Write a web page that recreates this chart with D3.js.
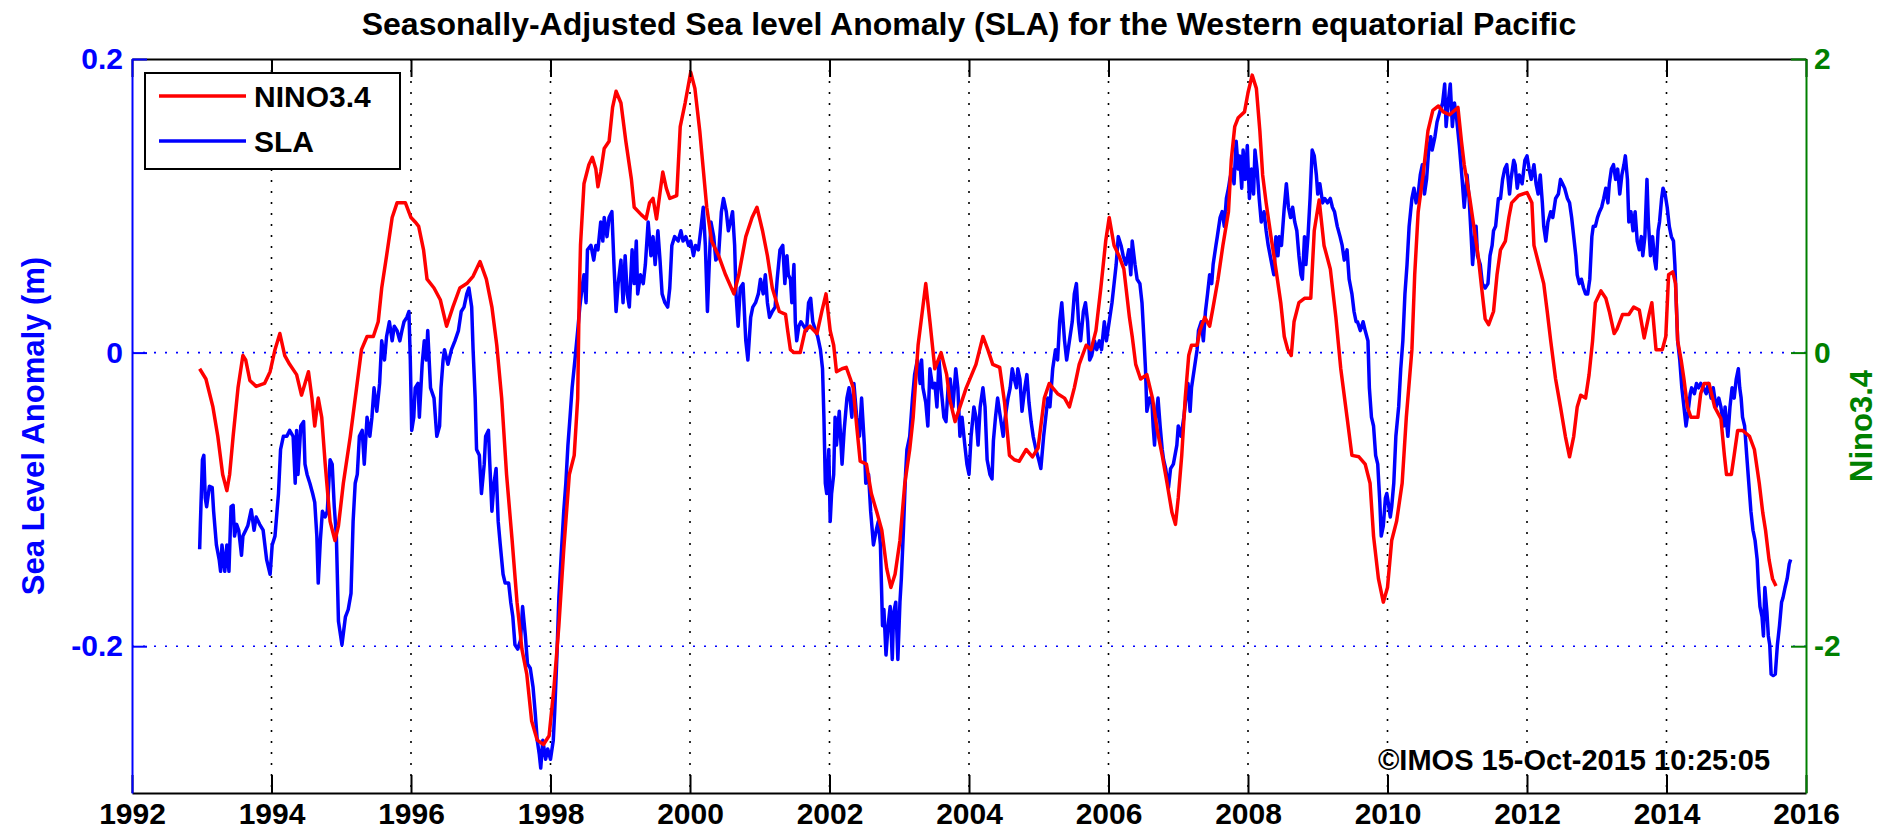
<!DOCTYPE html>
<html>
<head>
<meta charset="utf-8">
<script src="https://cdn.jsdelivr.net/npm/d3@7"></script>
<style>
  body { margin: 0; background: #fff; }
  text { font-family: "Liberation Sans", Arial, sans-serif; font-weight: bold; }
</style>
</head>
<body>
<div id="chart"></div>
<script>
// tick labels
var yearTicks = [1992, 1994, 1996, 1998, 2000, 2002, 2004, 2006, 2008, 2010, 2012, 2014, 2016];
var slaTicks = [-0.2, 0, 0.2];
var ninoTicks = [-2, 0, 2];
var seriesNames = ["NINO3.4", "SLA"];

// NINO3.4 index, [decimal year, value]
var ninoSeries = [
  [1992.97,-0.11],[1993.06,-0.18],[1993.16,-0.37],[1993.23,-0.57],[1993.30,-0.83],[1993.36,-0.94],[1993.40,-0.83],
  [1993.45,-0.57],[1993.52,-0.24],[1993.59,-0.02],[1993.63,-0.05],[1993.69,-0.19],[1993.78,-0.23],[1993.90,-0.21],
  [1993.98,-0.13],[1994.05,0.02],[1994.12,0.13],[1994.19,-0.02],[1994.26,-0.08],[1994.36,-0.15],[1994.43,-0.29],
  [1994.48,-0.21],[1994.53,-0.13],[1994.58,-0.31],[1994.62,-0.50],[1994.67,-0.31],[1994.72,-0.44],[1994.77,-0.76],
  [1994.84,-1.15],[1994.91,-1.28],[1994.96,-1.18],[1995.03,-0.89],[1995.13,-0.57],[1995.22,-0.24],[1995.29,0.02],
  [1995.37,0.11],[1995.46,0.11],[1995.53,0.21],[1995.58,0.44],[1995.65,0.66],[1995.73,0.92],[1995.80,1.02],
  [1995.92,1.02],[1996.00,0.92],[1996.06,0.89],[1996.11,0.86],[1996.18,0.70],[1996.23,0.50],[1996.33,0.44],
  [1996.42,0.36],[1996.51,0.18],[1996.60,0.31],[1996.70,0.44],[1996.80,0.47],[1996.89,0.52],[1996.99,0.62],
  [1997.08,0.50],[1997.16,0.31],[1997.23,0.05],[1997.30,-0.31],[1997.37,-0.83],[1997.45,-1.28],[1997.52,-1.70],
  [1997.59,-2.02],[1997.66,-2.19],[1997.73,-2.51],[1997.81,-2.64],[1997.90,-2.67],[1997.98,-2.61],[1998.05,-2.28],
  [1998.12,-1.86],[1998.19,-1.34],[1998.27,-0.83],[1998.34,-0.70],[1998.39,-0.31],[1998.41,0.34],[1998.43,0.73],
  [1998.48,1.15],[1998.55,1.28],[1998.60,1.33],[1998.65,1.25],[1998.68,1.13],[1998.72,1.23],[1998.77,1.39],
  [1998.84,1.44],[1998.89,1.67],[1998.94,1.78],[1999.01,1.70],[1999.08,1.44],[1999.16,1.18],[1999.20,0.99],
  [1999.30,0.94],[1999.37,0.91],[1999.42,1.02],[1999.47,1.05],[1999.52,0.91],[1999.57,1.09],[1999.61,1.23],
  [1999.66,1.12],[1999.71,1.05],[1999.81,1.07],[1999.86,1.54],[1999.93,1.70],[2000.01,1.91],[2000.07,1.80],
  [2000.14,1.51],[2000.19,1.25],[2000.24,0.99],[2000.31,0.76],[2000.41,0.66],[2000.51,0.53],[2000.63,0.40],
  [2000.70,0.53],[2000.80,0.79],[2000.89,0.92],[2000.96,0.99],[2001.04,0.83],[2001.11,0.66],[2001.18,0.44],
  [2001.28,0.28],[2001.37,0.26],[2001.40,0.15],[2001.44,0.02],[2001.49,0.00],[2001.58,0.00],[2001.65,0.15],
  [2001.72,0.18],[2001.82,0.13],[2001.89,0.28],[2001.95,0.40],[2002.01,0.15],[2002.06,0.05],[2002.10,-0.13],
  [2002.18,-0.11],[2002.24,-0.10],[2002.30,-0.18],[2002.34,-0.24],[2002.39,-0.50],[2002.44,-0.74],[2002.53,-0.76],
  [2002.60,-0.96],[2002.68,-1.09],[2002.75,-1.21],[2002.82,-1.47],[2002.88,-1.60],[2002.94,-1.51],[2003.01,-1.28],
  [2003.08,-0.89],[2003.15,-0.66],[2003.20,-0.44],[2003.27,0.05],[2003.32,0.24],[2003.38,0.47],[2003.44,0.21],
  [2003.51,-0.11],[2003.56,-0.05],[2003.60,0.00],[2003.68,-0.15],[2003.72,-0.31],[2003.80,-0.47],[2003.87,-0.37],
  [2003.96,-0.24],[2004.03,-0.16],[2004.10,-0.08],[2004.20,0.11],[2004.27,0.02],[2004.34,-0.08],[2004.44,-0.10],
  [2004.51,-0.34],[2004.58,-0.70],[2004.65,-0.73],[2004.72,-0.74],[2004.82,-0.66],[2004.91,-0.71],[2004.99,-0.65],
  [2005.03,-0.50],[2005.08,-0.31],[2005.15,-0.21],[2005.20,-0.24],[2005.27,-0.28],[2005.37,-0.31],[2005.44,-0.37],
  [2005.51,-0.24],[2005.58,-0.08],[2005.68,0.05],[2005.75,0.02],[2005.82,0.15],[2005.89,0.44],[2005.96,0.76],
  [2006.01,0.92],[2006.08,0.73],[2006.15,0.66],[2006.22,0.57],[2006.30,0.24],[2006.34,0.11],[2006.39,-0.08],
  [2006.46,-0.18],[2006.55,-0.15],[2006.63,-0.31],[2006.70,-0.53],[2006.77,-0.70],[2006.84,-0.89],[2006.91,-1.09],
  [2006.96,-1.17],[2007.00,-0.99],[2007.05,-0.70],[2007.10,-0.31],[2007.15,-0.02],[2007.19,0.05],[2007.27,0.05],
  [2007.31,0.15],[2007.38,0.24],[2007.45,0.18],[2007.50,0.31],[2007.57,0.50],[2007.64,0.73],[2007.72,0.96],
  [2007.76,1.31],[2007.81,1.54],[2007.86,1.60],[2007.95,1.64],[2008.00,1.77],[2008.06,1.89],[2008.12,1.80],
  [2008.17,1.51],[2008.21,1.21],[2008.26,1.02],[2008.33,0.79],[2008.40,0.57],[2008.47,0.34],[2008.52,0.11],
  [2008.57,0.02],[2008.62,-0.02],[2008.66,0.21],[2008.73,0.34],[2008.81,0.37],[2008.90,0.37],[2008.95,0.83],
  [2009.02,1.04],[2009.09,0.73],[2009.18,0.57],[2009.26,0.24],[2009.33,-0.11],[2009.42,-0.44],[2009.49,-0.70],
  [2009.59,-0.71],[2009.68,-0.76],[2009.75,-0.89],[2009.80,-1.25],[2009.87,-1.54],[2009.94,-1.70],[2010.00,-1.60],
  [2010.06,-1.28],[2010.13,-1.15],[2010.21,-0.89],[2010.27,-0.44],[2010.35,0.02],[2010.39,0.53],[2010.44,0.96],
  [2010.51,1.21],[2010.58,1.51],[2010.65,1.65],[2010.73,1.68],[2010.80,1.64],[2010.89,1.62],[2011.01,1.67],
  [2011.06,1.44],[2011.10,1.28],[2011.18,1.05],[2011.25,0.82],[2011.30,0.66],[2011.35,0.44],[2011.40,0.23],
  [2011.45,0.19],[2011.52,0.28],[2011.57,0.53],[2011.62,0.70],[2011.69,0.76],[2011.74,0.92],[2011.78,1.02],
  [2011.88,1.07],[2012.00,1.09],[2012.07,1.02],[2012.10,0.73],[2012.17,0.60],[2012.24,0.47],[2012.29,0.28],
  [2012.34,0.08],[2012.41,-0.18],[2012.48,-0.37],[2012.55,-0.57],[2012.61,-0.71],[2012.67,-0.57],[2012.72,-0.37],
  [2012.77,-0.29],[2012.84,-0.31],[2012.89,-0.15],[2012.94,0.08],[2012.98,0.34],[2013.06,0.42],[2013.13,0.37],
  [2013.18,0.28],[2013.25,0.13],[2013.29,0.16],[2013.37,0.26],[2013.46,0.26],[2013.53,0.31],[2013.61,0.29],
  [2013.68,0.10],[2013.75,0.26],[2013.79,0.34],[2013.85,0.02],[2013.94,0.02],[2013.99,0.11],[2014.03,0.53],
  [2014.09,0.55],[2014.13,0.47],[2014.16,0.08],[2014.21,-0.05],[2014.25,-0.18],[2014.30,-0.37],[2014.35,-0.44],
  [2014.45,-0.44],[2014.49,-0.28],[2014.54,-0.21],[2014.61,-0.21],[2014.69,-0.37],[2014.78,-0.45],[2014.83,-0.70],
  [2014.86,-0.83],[2014.93,-0.83],[2014.97,-0.70],[2015.02,-0.53],[2015.09,-0.53],[2015.19,-0.57],[2015.26,-0.66],
  [2015.33,-0.89],[2015.38,-1.09],[2015.42,-1.21],[2015.47,-1.41],[2015.52,-1.54],[2015.57,-1.59]
];

// sea level anomaly (m), [decimal year, value]
var slaSeries = [
  [1992.97,-0.134],[1992.98,-0.117],[1993.01,-0.073],[1993.03,-0.070],[1993.05,-0.099],[1993.07,-0.105],[1993.11,-0.091],
  [1993.15,-0.092],[1993.17,-0.108],[1993.21,-0.131],[1993.25,-0.141],[1993.27,-0.149],[1993.29,-0.131],[1993.33,-0.149],
  [1993.36,-0.131],[1993.39,-0.149],[1993.42,-0.105],[1993.45,-0.104],[1993.47,-0.125],[1993.50,-0.117],[1993.53,-0.121],
  [1993.57,-0.138],[1993.59,-0.125],[1993.63,-0.121],[1993.66,-0.118],[1993.71,-0.107],[1993.75,-0.121],[1993.78,-0.112],
  [1993.83,-0.117],[1993.88,-0.121],[1993.93,-0.141],[1993.98,-0.151],[1994.01,-0.131],[1994.05,-0.125],[1994.10,-0.096],
  [1994.13,-0.066],[1994.17,-0.057],[1994.22,-0.057],[1994.26,-0.053],[1994.31,-0.057],[1994.34,-0.089],[1994.36,-0.053],
  [1994.38,-0.083],[1994.42,-0.050],[1994.46,-0.047],[1994.48,-0.076],[1994.51,-0.083],[1994.55,-0.089],[1994.59,-0.096],
  [1994.62,-0.102],[1994.65,-0.125],[1994.67,-0.157],[1994.70,-0.128],[1994.73,-0.108],[1994.77,-0.112],[1994.80,-0.108],
  [1994.84,-0.073],[1994.87,-0.076],[1994.90,-0.105],[1994.93,-0.125],[1994.96,-0.183],[1995.01,-0.199],[1995.06,-0.180],
  [1995.10,-0.175],[1995.14,-0.164],[1995.17,-0.115],[1995.20,-0.089],[1995.23,-0.083],[1995.26,-0.057],[1995.30,-0.053],
  [1995.33,-0.076],[1995.37,-0.044],[1995.41,-0.057],[1995.44,-0.044],[1995.47,-0.024],[1995.51,-0.040],[1995.55,-0.021],
  [1995.58,0.008],[1995.62,-0.005],[1995.65,0.011],[1995.69,0.021],[1995.73,0.008],[1995.76,0.018],[1995.80,0.015],
  [1995.84,0.008],[1995.87,0.015],[1995.90,0.021],[1995.94,0.024],[1995.97,0.028],[1995.99,-0.005],[1996.01,-0.053],
  [1996.04,-0.044],[1996.06,-0.024],[1996.10,-0.021],[1996.12,-0.044],[1996.16,-0.008],[1996.19,0.008],[1996.22,-0.005],
  [1996.24,0.015],[1996.28,-0.024],[1996.33,-0.031],[1996.37,-0.057],[1996.41,-0.050],[1996.43,-0.024],[1996.46,-0.005],
  [1996.48,0.002],[1996.53,-0.008],[1996.58,0.002],[1996.63,0.008],[1996.68,0.015],[1996.72,0.028],[1996.76,0.031],
  [1996.80,0.040],[1996.83,0.044],[1996.87,0.031],[1996.89,0.002],[1996.92,-0.031],[1996.94,-0.066],[1996.98,-0.070],
  [1997.01,-0.096],[1997.05,-0.076],[1997.07,-0.057],[1997.11,-0.053],[1997.13,-0.076],[1997.16,-0.108],[1997.19,-0.089],
  [1997.22,-0.079],[1997.25,-0.115],[1997.28,-0.131],[1997.32,-0.151],[1997.35,-0.157],[1997.40,-0.157],[1997.43,-0.170],
  [1997.46,-0.180],[1997.49,-0.199],[1997.53,-0.202],[1997.57,-0.196],[1997.60,-0.173],[1997.64,-0.193],[1997.67,-0.212],
  [1997.71,-0.215],[1997.75,-0.228],[1997.78,-0.245],[1997.81,-0.264],[1997.84,-0.274],[1997.86,-0.283],[1997.89,-0.264],
  [1997.93,-0.277],[1997.96,-0.270],[1998.00,-0.277],[1998.04,-0.264],[1998.06,-0.245],[1998.09,-0.209],[1998.12,-0.167],
  [1998.15,-0.141],[1998.19,-0.108],[1998.22,-0.089],[1998.25,-0.063],[1998.28,-0.044],[1998.31,-0.024],[1998.35,-0.005],
  [1998.39,0.015],[1998.42,0.031],[1998.46,0.047],[1998.48,0.053],[1998.51,0.034],[1998.53,0.070],[1998.58,0.073],
  [1998.62,0.063],[1998.65,0.073],[1998.68,0.070],[1998.72,0.089],[1998.75,0.076],[1998.77,0.092],[1998.81,0.079],
  [1998.84,0.092],[1998.88,0.096],[1998.91,0.060],[1998.94,0.028],[1998.97,0.047],[1999.01,0.063],[1999.04,0.034],
  [1999.07,0.066],[1999.10,0.040],[1999.13,0.031],[1999.17,0.070],[1999.20,0.047],[1999.23,0.076],[1999.25,0.040],
  [1999.29,0.053],[1999.33,0.047],[1999.36,0.060],[1999.40,0.089],[1999.44,0.066],[1999.47,0.079],[1999.50,0.060],
  [1999.54,0.083],[1999.57,0.063],[1999.60,0.040],[1999.64,0.034],[1999.68,0.031],[1999.71,0.044],[1999.74,0.073],
  [1999.78,0.079],[1999.83,0.076],[1999.87,0.083],[1999.90,0.076],[1999.94,0.079],[1999.98,0.073],[2000.01,0.076],
  [2000.05,0.066],[2000.08,0.073],[2000.12,0.070],[2000.16,0.086],[2000.19,0.099],[2000.22,0.073],[2000.25,0.028],
  [2000.27,0.053],[2000.30,0.089],[2000.34,0.079],[2000.37,0.063],[2000.41,0.066],[2000.45,0.096],[2000.48,0.105],
  [2000.52,0.096],[2000.55,0.083],[2000.58,0.089],[2000.61,0.096],[2000.64,0.073],[2000.66,0.040],[2000.69,0.018],
  [2000.72,0.044],[2000.76,0.047],[2000.80,0.008],[2000.83,-0.005],[2000.87,0.024],[2000.90,0.031],[2000.94,0.034],
  [2000.98,0.040],[2001.01,0.050],[2001.05,0.040],[2001.08,0.053],[2001.11,0.034],[2001.14,0.024],[2001.18,0.028],
  [2001.22,0.031],[2001.25,0.050],[2001.29,0.070],[2001.33,0.073],[2001.36,0.047],[2001.39,0.066],[2001.41,0.053],
  [2001.44,0.050],[2001.46,0.034],[2001.49,0.060],[2001.51,0.021],[2001.53,0.008],[2001.56,0.018],[2001.59,0.021],
  [2001.63,0.018],[2001.67,0.015],[2001.70,0.034],[2001.73,0.037],[2001.76,0.021],[2001.80,0.015],[2001.83,0.011],
  [2001.87,0.002],[2001.90,-0.011],[2001.92,-0.044],[2001.94,-0.089],[2001.96,-0.096],[2001.99,-0.066],[2002.01,-0.115],
  [2002.03,-0.096],[2002.06,-0.083],[2002.08,-0.044],[2002.10,-0.063],[2002.14,-0.040],[2002.18,-0.076],[2002.21,-0.053],
  [2002.25,-0.031],[2002.28,-0.024],[2002.32,-0.044],[2002.35,-0.021],[2002.39,-0.044],[2002.43,-0.057],[2002.46,-0.031],
  [2002.50,-0.063],[2002.52,-0.089],[2002.56,-0.083],[2002.59,-0.108],[2002.63,-0.131],[2002.67,-0.121],[2002.70,-0.115],
  [2002.73,-0.131],[2002.76,-0.186],[2002.78,-0.175],[2002.81,-0.206],[2002.84,-0.186],[2002.87,-0.173],[2002.90,-0.209],
  [2002.92,-0.177],[2002.95,-0.170],[2002.98,-0.209],[2003.01,-0.170],[2003.03,-0.154],[2003.06,-0.121],[2003.09,-0.083],
  [2003.11,-0.066],[2003.15,-0.057],[2003.19,-0.031],[2003.22,-0.015],[2003.26,-0.005],[2003.30,-0.021],[2003.32,-0.005],
  [2003.34,-0.024],[2003.38,-0.034],[2003.41,-0.050],[2003.44,-0.011],[2003.48,-0.024],[2003.51,-0.021],[2003.54,-0.037],
  [2003.57,-0.005],[2003.60,-0.024],[2003.64,-0.044],[2003.67,-0.047],[2003.70,-0.024],[2003.73,-0.018],[2003.77,-0.037],
  [2003.81,-0.011],[2003.84,-0.024],[2003.87,-0.057],[2003.90,-0.044],[2003.94,-0.063],[2003.97,-0.076],[2004.00,-0.083],
  [2004.03,-0.057],[2004.07,-0.037],[2004.10,-0.044],[2004.13,-0.063],[2004.16,-0.037],[2004.20,-0.024],[2004.23,-0.037],
  [2004.26,-0.073],[2004.30,-0.083],[2004.33,-0.086],[2004.35,-0.060],[2004.38,-0.044],[2004.41,-0.031],[2004.45,-0.044],
  [2004.49,-0.057],[2004.52,-0.044],[2004.56,-0.031],[2004.59,-0.024],[2004.62,-0.011],[2004.65,-0.018],[2004.68,-0.024],
  [2004.70,-0.011],[2004.73,-0.018],[2004.76,-0.040],[2004.80,-0.024],[2004.83,-0.015],[2004.86,-0.034],[2004.89,-0.047],
  [2004.92,-0.057],[2004.96,-0.066],[2005.00,-0.073],[2005.03,-0.079],[2005.07,-0.057],[2005.10,-0.044],[2005.13,-0.031],
  [2005.16,-0.037],[2005.20,-0.011],[2005.24,0.002],[2005.27,-0.005],[2005.30,0.021],[2005.33,0.034],[2005.37,0.008],
  [2005.40,-0.005],[2005.44,0.008],[2005.48,0.021],[2005.51,0.040],[2005.54,0.047],[2005.57,0.021],[2005.60,0.008],
  [2005.64,0.028],[2005.67,0.034],[2005.70,0.021],[2005.73,-0.005],[2005.76,-0.002],[2005.80,0.008],[2005.83,0.002],
  [2005.87,0.008],[2005.90,0.002],[2005.94,0.021],[2005.97,0.008],[2006.01,0.021],[2006.05,0.034],[2006.08,0.047],
  [2006.11,0.060],[2006.14,0.079],[2006.18,0.073],[2006.21,0.066],[2006.25,0.060],[2006.29,0.070],[2006.32,0.053],
  [2006.34,0.076],[2006.38,0.060],[2006.41,0.050],[2006.45,0.047],[2006.48,0.034],[2006.51,0.008],[2006.53,-0.011],
  [2006.55,-0.040],[2006.59,-0.031],[2006.62,-0.031],[2006.64,-0.050],[2006.66,-0.063],[2006.68,-0.044],[2006.71,-0.031],
  [2006.74,-0.050],[2006.77,-0.066],[2006.79,-0.073],[2006.82,-0.079],[2006.84,-0.086],[2006.86,-0.092],[2006.89,-0.079],
  [2006.93,-0.076],[2006.98,-0.063],[2007.00,-0.050],[2007.04,-0.057],[2007.08,-0.044],[2007.11,-0.031],[2007.14,-0.021],
  [2007.17,-0.040],[2007.19,-0.024],[2007.23,-0.011],[2007.27,0.002],[2007.29,0.015],[2007.33,0.021],[2007.36,0.008],
  [2007.39,0.028],[2007.42,0.040],[2007.45,0.053],[2007.48,0.047],[2007.50,0.060],[2007.54,0.073],[2007.56,0.079],
  [2007.60,0.092],[2007.63,0.096],[2007.66,0.086],[2007.69,0.105],[2007.72,0.112],[2007.74,0.118],[2007.77,0.125],
  [2007.80,0.115],[2007.83,0.144],[2007.86,0.125],[2007.88,0.134],[2007.91,0.112],[2007.93,0.138],[2007.96,0.118],
  [2007.99,0.141],[2008.02,0.105],[2008.05,0.125],[2008.08,0.108],[2008.10,0.138],[2008.13,0.125],[2008.16,0.105],
  [2008.19,0.089],[2008.23,0.096],[2008.26,0.083],[2008.29,0.073],[2008.33,0.063],[2008.37,0.053],[2008.40,0.079],
  [2008.43,0.066],[2008.45,0.079],[2008.48,0.073],[2008.52,0.099],[2008.55,0.115],[2008.58,0.099],[2008.61,0.092],
  [2008.64,0.099],[2008.67,0.089],[2008.70,0.083],[2008.73,0.066],[2008.76,0.053],[2008.78,0.050],[2008.81,0.079],
  [2008.83,0.060],[2008.86,0.079],[2008.89,0.105],[2008.92,0.138],[2008.95,0.134],[2008.98,0.121],[2009.00,0.108],
  [2009.03,0.115],[2009.07,0.102],[2009.10,0.105],[2009.14,0.102],[2009.18,0.105],[2009.21,0.099],[2009.24,0.096],
  [2009.28,0.086],[2009.32,0.079],[2009.35,0.073],[2009.38,0.063],[2009.42,0.070],[2009.45,0.050],[2009.49,0.040],
  [2009.52,0.028],[2009.55,0.021],[2009.57,0.021],[2009.61,0.015],[2009.65,0.021],[2009.68,0.015],[2009.72,0.008],
  [2009.74,-0.024],[2009.77,-0.044],[2009.80,-0.050],[2009.83,-0.070],[2009.86,-0.076],[2009.89,-0.102],[2009.91,-0.125],
  [2009.94,-0.118],[2009.97,-0.099],[2009.99,-0.096],[2010.01,-0.102],[2010.04,-0.112],[2010.06,-0.105],[2010.09,-0.089],
  [2010.12,-0.057],[2010.16,-0.037],[2010.19,-0.011],[2010.22,0.008],[2010.25,0.040],[2010.28,0.060],[2010.31,0.086],
  [2010.35,0.105],[2010.38,0.112],[2010.41,0.102],[2010.44,0.108],[2010.47,0.121],[2010.50,0.128],[2010.53,0.108],
  [2010.56,0.118],[2010.59,0.138],[2010.62,0.147],[2010.64,0.138],[2010.68,0.147],[2010.71,0.157],[2010.75,0.164],
  [2010.79,0.170],[2010.82,0.183],[2010.84,0.154],[2010.87,0.170],[2010.90,0.183],[2010.93,0.154],[2010.96,0.170],
  [2010.99,0.160],[2011.03,0.141],[2011.07,0.118],[2011.10,0.099],[2011.14,0.121],[2011.17,0.105],[2011.20,0.079],
  [2011.22,0.060],[2011.25,0.079],[2011.27,0.086],[2011.29,0.066],[2011.33,0.060],[2011.36,0.047],[2011.40,0.044],
  [2011.44,0.047],[2011.47,0.066],[2011.50,0.073],[2011.52,0.083],[2011.55,0.086],[2011.59,0.105],[2011.62,0.105],
  [2011.65,0.118],[2011.68,0.125],[2011.71,0.128],[2011.75,0.108],[2011.77,0.118],[2011.81,0.131],[2011.83,0.128],
  [2011.86,0.112],[2011.89,0.121],[2011.93,0.115],[2011.97,0.131],[2012.00,0.134],[2012.03,0.125],[2012.06,0.118],
  [2012.10,0.128],[2012.13,0.115],[2012.16,0.108],[2012.19,0.121],[2012.22,0.102],[2012.24,0.086],[2012.27,0.076],
  [2012.30,0.089],[2012.34,0.096],[2012.37,0.092],[2012.41,0.105],[2012.45,0.108],[2012.48,0.118],[2012.51,0.115],
  [2012.54,0.112],[2012.58,0.105],[2012.61,0.102],[2012.64,0.092],[2012.67,0.079],[2012.70,0.066],[2012.72,0.053],
  [2012.75,0.047],[2012.78,0.050],[2012.81,0.044],[2012.84,0.040],[2012.87,0.040],[2012.90,0.050],[2012.93,0.079],
  [2012.95,0.086],[2012.98,0.086],[2013.01,0.092],[2013.04,0.096],[2013.07,0.099],[2013.10,0.105],[2013.13,0.112],
  [2013.16,0.102],[2013.18,0.115],[2013.21,0.125],[2013.24,0.128],[2013.27,0.118],[2013.30,0.125],[2013.33,0.108],
  [2013.36,0.121],[2013.39,0.128],[2013.41,0.134],[2013.44,0.118],[2013.46,0.089],[2013.49,0.096],[2013.52,0.083],
  [2013.55,0.096],[2013.58,0.076],[2013.61,0.070],[2013.64,0.079],[2013.66,0.066],[2013.69,0.079],[2013.72,0.118],
  [2013.74,0.089],[2013.77,0.066],[2013.80,0.079],[2013.83,0.063],[2013.85,0.057],[2013.88,0.083],[2013.90,0.089],
  [2013.93,0.105],[2013.95,0.112],[2013.98,0.108],[2014.01,0.099],[2014.04,0.086],[2014.07,0.079],[2014.10,0.076],
  [2014.12,0.060],[2014.14,0.034],[2014.16,0.008],[2014.19,-0.005],[2014.22,-0.024],[2014.25,-0.037],[2014.28,-0.050],
  [2014.31,-0.040],[2014.34,-0.028],[2014.36,-0.024],[2014.40,-0.028],[2014.43,-0.021],[2014.46,-0.024],[2014.49,-0.021],
  [2014.53,-0.024],[2014.57,-0.028],[2014.60,-0.021],[2014.64,-0.031],[2014.67,-0.024],[2014.71,-0.037],[2014.75,-0.031],
  [2014.78,-0.037],[2014.82,-0.050],[2014.84,-0.037],[2014.88,-0.057],[2014.91,-0.037],[2014.94,-0.024],[2014.97,-0.031],
  [2015.00,-0.018],[2015.03,-0.011],[2015.05,-0.024],[2015.07,-0.031],[2015.09,-0.044],[2015.12,-0.050],[2015.15,-0.070],
  [2015.18,-0.089],[2015.21,-0.108],[2015.24,-0.121],[2015.27,-0.128],[2015.30,-0.141],[2015.32,-0.160],[2015.34,-0.173],
  [2015.37,-0.180],[2015.39,-0.193],[2015.41,-0.160],[2015.44,-0.177],[2015.46,-0.193],[2015.48,-0.199],[2015.50,-0.219],
  [2015.53,-0.220],[2015.56,-0.219],[2015.59,-0.199],[2015.62,-0.186],[2015.65,-0.170],[2015.67,-0.167],[2015.70,-0.160],
  [2015.73,-0.154],[2015.76,-0.144],[2015.78,-0.141]
];

var width = 1889, height = 836;
var margin_left = 132, margin_right = 83, margin_top = 59, margin_bottom = 43;
var plot_w = width - margin_left - margin_right;
var plot_h = height - margin_top - margin_bottom;

var svg = d3.select("#chart").append("svg")
  .attr("width", width)
  .attr("height", height)
  .style("background", "#fff");

var g = svg.append("g")
  .attr("transform", "translate(" + margin_left + "," + margin_top + ")");

var x = d3.scaleLinear().domain([1992, 2016]).range([0, plot_w]);
var ySla = d3.scaleLinear().domain([-0.3, 0.2]).range([plot_h, 0]);
var yNino = d3.scaleLinear().domain([-3, 2]).range([plot_h, 0]);

// dotted grid: vertical black, horizontal blue
g.append("g").selectAll("line")
  .data(yearTicks.filter(function(d) { return d > 1992 && d < 2016; }))
  .enter().append("line")
  .attr("x1", function(d) { return x(d); })
  .attr("x2", function(d) { return x(d); })
  .attr("y1", 0).attr("y2", plot_h)
  .attr("stroke", "#000").attr("stroke-width", 1.6)
  .attr("stroke-dasharray", "2,9");

g.append("g").selectAll("line")
  .data(slaTicks.filter(function(d) { return d < 0.2; }))
  .enter().append("line")
  .attr("x1", 0).attr("x2", plot_w)
  .attr("y1", function(d) { return ySla(d); })
  .attr("y2", function(d) { return ySla(d); })
  .attr("stroke", "#0000ff").attr("stroke-width", 1.6)
  .attr("stroke-dasharray", "2,9");

// series
var slaLine = d3.line()
  .x(function(d) { return x(d[0]); })
  .y(function(d) { return ySla(d[1]); });
var ninoLine = d3.line()
  .x(function(d) { return x(d[0]); })
  .y(function(d) { return yNino(d[1]); });

g.append("path").datum(slaSeries)
  .attr("d", slaLine)
  .attr("fill", "none").attr("stroke", "#0000ff")
  .attr("stroke-width", 3.5).attr("stroke-linejoin", "round");

g.append("path").datum(ninoSeries)
  .attr("d", ninoLine)
  .attr("fill", "none").attr("stroke", "#ff0000")
  .attr("stroke-width", 3.5).attr("stroke-linejoin", "round");

// axes
var xBottom = g.append("g")
  .attr("transform", "translate(0," + plot_h + ")")
  .call(d3.axisBottom(x).tickValues(yearTicks).tickFormat(d3.format("d"))
    .tickSizeInner(-18).tickSizeOuter(0).tickPadding(10));
xBottom.selectAll("text").attr("font-size", 30).attr("fill", "#000");

var xTop = g.append("g")
  .call(d3.axisTop(x).tickValues(yearTicks).tickFormat("")
    .tickSizeInner(-18).tickSizeOuter(0));

[xBottom, xTop].forEach(function(a) {
  a.selectAll("path, line").attr("stroke", "#000").attr("stroke-width", 2);
});

var yLeft = g.append("g")
  .call(d3.axisLeft(ySla).tickValues(slaTicks).tickFormat(function(d) { return String(d); })
    .tickSizeInner(-15).tickSizeOuter(0).tickPadding(9));
yLeft.selectAll("path, line").attr("stroke", "#0000ff").attr("stroke-width", 2);
yLeft.selectAll("text").attr("font-size", 30).attr("fill", "#0000ff");

var yRight = g.append("g")
  .attr("transform", "translate(" + plot_w + ",0)")
  .call(d3.axisRight(yNino).tickValues(ninoTicks).tickFormat(function(d) { return String(d); })
    .tickSizeInner(-15).tickSizeOuter(0).tickPadding(8));
yRight.selectAll("path, line").attr("stroke", "#008000").attr("stroke-width", 2);
yRight.selectAll("text").attr("font-size", 30).attr("fill", "#008000");

// legend
var legend = g.append("g").attr("transform", "translate(13,14)");
legend.append("rect")
  .attr("width", 255).attr("height", 96)
  .attr("fill", "#fff").attr("stroke", "#000").attr("stroke-width", 2);
var legendColors = ["#ff0000", "#0000ff"];
seriesNames.forEach(function(name, i) {
  var ly = 23 + i * 45;
  legend.append("line")
    .attr("x1", 14).attr("x2", 101).attr("y1", ly).attr("y2", ly)
    .attr("stroke", legendColors[i]).attr("stroke-width", 3.5);
  legend.append("text")
    .attr("x", 109).attr("y", ly + 11)
    .attr("font-size", 30).attr("fill", "#000")
    .text(name);
});

// labels
svg.append("text")
  .attr("x", margin_left + plot_w / 2).attr("y", 35)
  .attr("text-anchor", "middle").attr("font-size", 32).attr("fill", "#000")
  .text("Seasonally-Adjusted Sea level Anomaly (SLA) for the Western equatorial Pacific");

svg.append("text")
  .attr("transform", "translate(44," + (margin_top + plot_h / 2) + ") rotate(-90)")
  .attr("text-anchor", "middle").attr("font-size", 31).attr("fill", "#0000ff")
  .text("Sea Level Anomaly (m)");

svg.append("text")
  .attr("transform", "translate(1872," + (margin_top + plot_h / 2) + ") rotate(-90)")
  .attr("text-anchor", "middle").attr("font-size", 31).attr("fill", "#008000")
  .text("Nino3.4");

svg.append("text")
  .attr("x", 1378).attr("y", 770)
  .attr("font-size", 29).attr("fill", "#000")
  .text("\u00a9IMOS 15-Oct-2015 10:25:05");
</script>
</body>
</html>
